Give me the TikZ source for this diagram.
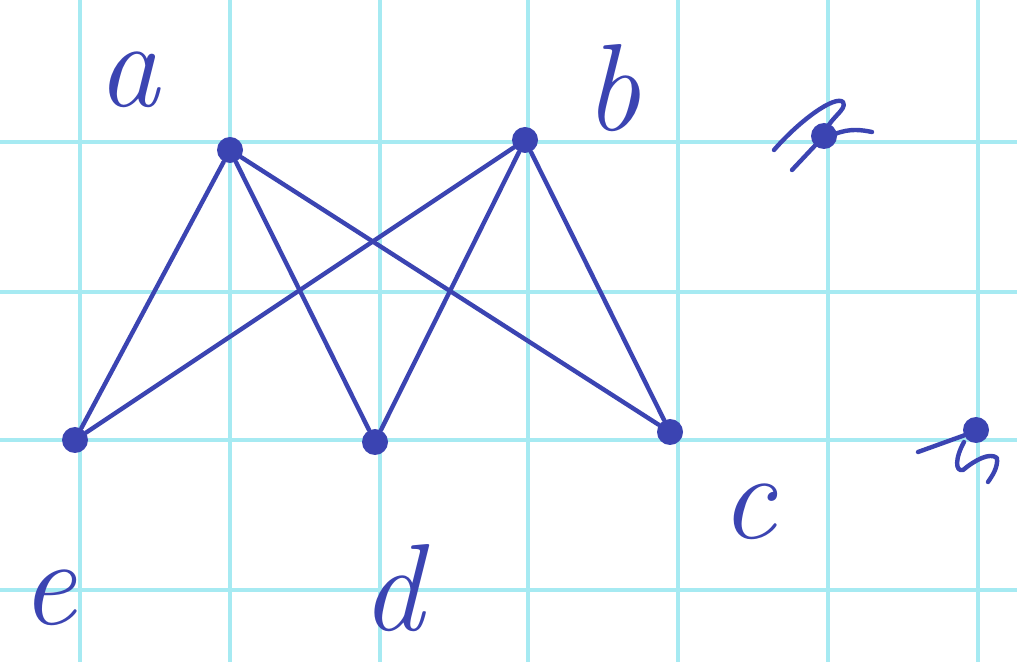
\documentclass[tikz,border=0pt]{standalone}
\begin{document}
\begin{tikzpicture}[x=0.5pt,y=-0.5pt,
  ink/.style={draw=inkc,line width=2.2pt,line cap=round,line join=round},
  vert/.style={circle,fill=inkc,inner sep=0pt,minimum size=13pt},
  lbl/.style={text=inkc,font=\fontsize{62}{62}\selectfont\itshape}]
\definecolor{inkc}{HTML}{3B44B2}
\definecolor{gridc}{HTML}{A6EAF2}
\useasboundingbox (0,0) rectangle (1017,662);
\fill[white] (0,0) rectangle (1017,662);
% grid
\foreach \gx in {80,230,380,528,678,828,978}
  \draw[gridc,line width=1.6pt] (\gx,0) -- (\gx,662);
\foreach \gy in {142,292,440,590}
  \draw[gridc,line width=1.6pt] (0,\gy) -- (1017,\gy);
% vertices
\node[vert] (a) at (230,150) {};
\node[vert] (b) at (525,140) {};
\node[vert] (e) at (75,440) {};
\node[vert] (d) at (375,442) {};
\node[vert] (c) at (670,432) {};
\node[vert] (f) at (824,136) {};
\node[vert] (g) at (976,430) {};
% edges
\draw[ink] (a) -- (e);
\draw[ink] (a) -- (d);
\draw[ink] (a) -- (c);
\draw[ink] (b) -- (e);
\draw[ink] (b) -- (d);
\draw[ink] (b) -- (c);
% scribbles on isolated vertices
\draw[ink] (774,150) .. controls (800,120) and (835,95) .. (843,102) .. controls (848,110) and (828,118) .. (824,136) -- (792,170);
\draw[ink] (835,134) .. controls (850,128) and (862,130) .. (872,132);
\draw[ink] (918,452) -- (968,434);
\draw[ink] (964,442) .. controls (955,458) and (955,472) .. (963,470) .. controls (975,460) and (990,452) .. (997,458) .. controls (998,468) and (992,476) .. (988,482);
% labels
\node[lbl] (la) at (128,80) {a};
\node[lbl] (lb) at (612,88) {b};
\node[lbl] (lc) at (748,512) {c};
\node[lbl] (ld) at (392,588) {d};
\node[lbl] (le) at (48,598) {e};
\end{tikzpicture}
\end{document}
